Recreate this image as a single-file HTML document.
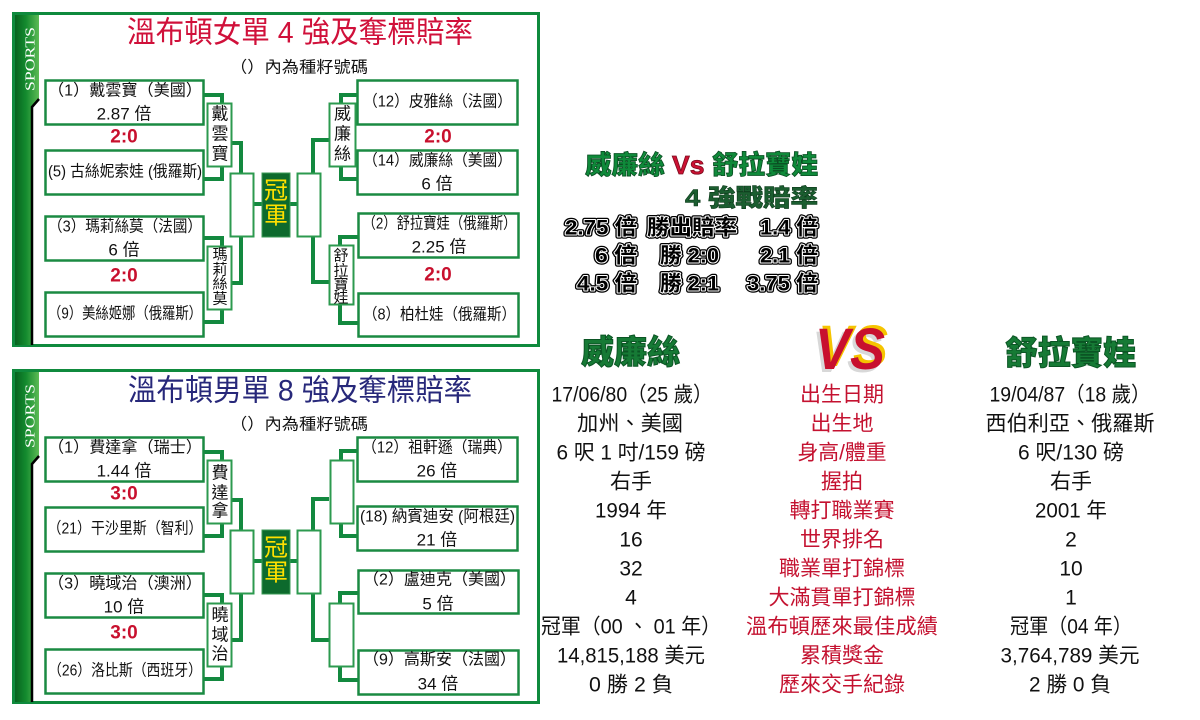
<!DOCTYPE html>
<html><head><meta charset="utf-8">
<style>
html,body{margin:0;padding:0;background:#fff;}
body{width:1200px;height:720px;overflow:hidden;}
svg{display:block;}
text{font-family:"Liberation Sans","Noto Sans CJK TC",sans-serif;}
.bx{fill:#fff;stroke:#1a8a42;stroke-width:2.5;}
.nb{fill:#fff;stroke:#2c9a4f;stroke-width:2;}
.ln{fill:none;stroke:#13893f;stroke-width:4;}
.t{font-size:16px;fill:#111;}
.t2{font-size:17px;fill:#111;}
.sc{font-size:19px;font-weight:bold;fill:#c8102e;}
.nm{font-size:17px;fill:#111;}
.nm2{font-size:15px;fill:#111;}
.ch{font-size:24px;fill:#ffe000;}
.od{font-size:21px;font-weight:bold;}
.l1 text{stroke:#000;stroke-width:4.5;stroke-linejoin:round;fill:#000;}
.l2 text{stroke:#fff;stroke-width:2;stroke-linejoin:round;fill:#fff;}
.l3 text{fill:#000;}
.tb{font-size:21px;fill:#111;}
.tr{font-size:21px;fill:#c41230;}
</style></head><body>
<svg width="1200" height="720" viewBox="0 0 1200 720" xmlns="http://www.w3.org/2000/svg">
<defs>
<linearGradient id="g" x1="0" x2="1" y1="0" y2="0">
<stop offset="0" stop-color="#07631f"/><stop offset="0.45" stop-color="#138a2e"/><stop offset="1" stop-color="#5dbb55"/>
</linearGradient>
</defs>

<!-- ================= WOMEN PANEL ================= -->
<g>
<rect x="13.5" y="13.5" width="525" height="332" fill="none" stroke="#0f8a3d" stroke-width="3"/>
<polygon points="15,15 39,15 39,99 32.5,107 32.5,345 15,345" fill="url(#g)"/>
<polyline points="39,99 32,107 32,345" fill="none" stroke="#000" stroke-width="2.5"/>
<text transform="translate(31,59) rotate(-90)" text-anchor="middle" dominant-baseline="central" style="font-family:'Liberation Serif',serif;font-size:14px;fill:#fff" textLength="64" lengthAdjust="spacingAndGlyphs">SPORTS</text>

<text x="300" y="33" text-anchor="middle" dominant-baseline="central" style="font-size:30px;fill:#d0103a" textLength="346" lengthAdjust="spacingAndGlyphs">溫布頓女單 4 強及奪標賠率</text>
<text x="299" y="68" text-anchor="middle" dominant-baseline="central" style="font-size:16px;fill:#111" textLength="138" lengthAdjust="spacingAndGlyphs">（）內為種籽號碼</text>

<path class="ln" d="M204,95 H222 V179 H204"/>
<path class="ln" d="M204,238 H222 V322 H204"/>
<path class="ln" d="M232,143 H241 V283 H232"/>
<path class="ln" d="M254,204 H297"/>
<path class="ln" d="M329,140 H313 V282 H329"/>
<path class="ln" d="M357,95 H341 V179 H357"/>
<path class="ln" d="M358,237 H340 V323 H358"/>

<rect class="bx" x="45.5" y="80.5" width="158" height="44"/>
<rect class="bx" x="45.5" y="150.5" width="158" height="44"/>
<rect class="bx" x="45.5" y="216.5" width="158" height="44"/>
<rect class="bx" x="45.5" y="292.5" width="158" height="44"/>
<rect class="bx" x="357.5" y="80.5" width="160" height="44"/>
<rect class="bx" x="357.5" y="150.5" width="160" height="44"/>
<rect class="bx" x="358.5" y="213.5" width="160" height="44"/>
<rect class="bx" x="358.5" y="293.5" width="160" height="43"/>

<rect class="nb" x="207.5" y="103.5" width="24" height="63"/>
<rect class="nb" x="207.5" y="246.5" width="24" height="63"/>
<rect class="nb" x="329.5" y="103.5" width="26" height="63"/>
<rect class="nb" x="329.5" y="245.5" width="24" height="59"/>
<rect class="nb" x="230.5" y="173.5" width="23" height="63"/>
<rect class="nb" x="297.5" y="173.5" width="23" height="63"/>
<rect x="262" y="173" width="28" height="64" fill="#0d6a2d" stroke="#3a9a55" stroke-width="1"/>

<g text-anchor="middle" dominant-baseline="central">
<text class="t" x="125" y="91" textLength="154" lengthAdjust="spacingAndGlyphs">（1）戴雲寶（美國）</text>
<text class="t2" x="124" y="114">2.87 倍</text>
<text class="t" x="125" y="172" textLength="154" lengthAdjust="spacingAndGlyphs">(5) 古絲妮索娃 (俄羅斯)</text>
<text class="t" x="125" y="227" textLength="154" lengthAdjust="spacingAndGlyphs">（3）瑪莉絲莫（法國）</text>
<text class="t2" x="124" y="250">6 倍</text>
<text class="t" x="125" y="314" textLength="154" lengthAdjust="spacingAndGlyphs">（9）美絲姬娜（俄羅斯）</text>
<text class="sc" x="124" y="137">2:0</text>
<text class="sc" x="124" y="276">2:0</text>

<text class="t" x="437.5" y="102" textLength="149" lengthAdjust="spacingAndGlyphs">（12）皮雅絲（法國）</text>
<text class="t" x="437.5" y="161" textLength="149" lengthAdjust="spacingAndGlyphs">（14）威廉絲（美國）</text>
<text class="t2" x="437" y="184">6 倍</text>
<text class="t" x="439.5" y="224" textLength="154" lengthAdjust="spacingAndGlyphs">（2）舒拉寶娃（俄羅斯）</text>
<text class="t2" x="439" y="247">2.25 倍</text>
<text class="t" x="439.5" y="315" textLength="153" lengthAdjust="spacingAndGlyphs">（8）柏杜娃（俄羅斯）</text>
<text class="sc" x="438" y="137">2:0</text>
<text class="sc" x="438" y="275">2:0</text>

<text class="nm" x="220" y="114">戴</text><text class="nm" x="220" y="134">雲</text><text class="nm" x="220" y="154">寶</text>
<text class="nm2" x="220" y="255">瑪</text><text class="nm2" x="220" y="270">莉</text><text class="nm2" x="220" y="284">絲</text><text class="nm2" x="220" y="299">莫</text>
<text class="nm" x="342.5" y="114">威</text><text class="nm" x="342.5" y="134">廉</text><text class="nm" x="342.5" y="154">絲</text>
<text class="nm2" x="341" y="256">舒</text><text class="nm2" x="341" y="271">拉</text><text class="nm2" x="341" y="285">寶</text><text class="nm2" x="341" y="298">娃</text>
<text class="ch" x="276" y="191">冠</text><text class="ch" x="276" y="216">軍</text>
</g>
</g>

<!-- ================= MEN PANEL ================= -->
<g transform="translate(0,357)">
<rect x="13.5" y="13.5" width="525" height="332" fill="none" stroke="#0f8a3d" stroke-width="3"/>
<polygon points="15,15 39,15 39,99 32.5,107 32.5,345 15,345" fill="url(#g)"/>
<polyline points="39,99 32,107 32,345" fill="none" stroke="#000" stroke-width="2.5"/>
<text transform="translate(31,59) rotate(-90)" text-anchor="middle" dominant-baseline="central" style="font-family:'Liberation Serif',serif;font-size:14px;fill:#fff" textLength="64" lengthAdjust="spacingAndGlyphs">SPORTS</text>

<text x="300" y="34" text-anchor="middle" dominant-baseline="central" style="font-size:30px;fill:#27287a" textLength="344" lengthAdjust="spacingAndGlyphs">溫布頓男單 8 強及奪標賠率</text>
<text x="299" y="68" text-anchor="middle" dominant-baseline="central" style="font-size:16px;fill:#111" textLength="138" lengthAdjust="spacingAndGlyphs">（）內為種籽號碼</text>

<path class="ln" d="M204,95 H222 V179 H204"/>
<path class="ln" d="M204,238 H222 V322 H204"/>
<path class="ln" d="M232,143 H241 V283 H232"/>
<path class="ln" d="M254,204 H297"/>
<path class="ln" d="M329,142 H313 V283 H329"/>
<path class="ln" d="M357,94 H341 V179 H357"/>
<path class="ln" d="M358,236 H340 V323 H358"/>

<rect class="bx" x="45.5" y="80.5" width="158" height="44"/>
<rect class="bx" x="45.5" y="150.5" width="158" height="44"/>
<rect class="bx" x="45.5" y="216.5" width="158" height="44"/>
<rect class="bx" x="45.5" y="292.5" width="158" height="44"/>
<rect class="bx" x="357.5" y="80.5" width="160" height="44"/>
<rect class="bx" x="357.5" y="149.5" width="160" height="44"/>
<rect class="bx" x="358.5" y="213.5" width="160" height="43"/>
<rect class="bx" x="358.5" y="293.5" width="160" height="44"/>

<rect class="nb" x="207.5" y="103.5" width="24" height="63"/>
<rect class="nb" x="207.5" y="246.5" width="24" height="63"/>
<rect class="nb" x="330.5" y="103.5" width="23" height="63"/>
<rect class="nb" x="329.5" y="246.5" width="24" height="63"/>
<rect class="nb" x="230.5" y="173.5" width="23" height="63"/>
<rect class="nb" x="297.5" y="173.5" width="23" height="63"/>
<rect x="262" y="173" width="28" height="64" fill="#0d6a2d" stroke="#3a9a55" stroke-width="1"/>

<g text-anchor="middle" dominant-baseline="central">
<text class="t" x="125" y="91" textLength="154" lengthAdjust="spacingAndGlyphs">（1）費達拿（瑞士）</text>
<text class="t2" x="124" y="114">1.44 倍</text>
<text class="t" x="125" y="172" textLength="155" lengthAdjust="spacingAndGlyphs">（21）干沙里斯（智利）</text>
<text class="t" x="125" y="227" textLength="154" lengthAdjust="spacingAndGlyphs">（3）曉域治（澳洲）</text>
<text class="t2" x="124" y="250">10 倍</text>
<text class="t" x="125" y="314" textLength="154" lengthAdjust="spacingAndGlyphs">（26）洛比斯（西班牙）</text>
<text class="sc" x="124" y="137">3:0</text>
<text class="sc" x="124" y="276">3:0</text>

<text class="t" x="437" y="91" textLength="150" lengthAdjust="spacingAndGlyphs">（12）祖軒遜（瑞典）</text>
<text class="t2" x="437" y="114">26 倍</text>
<text class="t" x="437.5" y="160" textLength="155" lengthAdjust="spacingAndGlyphs">(18) 納賓迪安 (阿根廷)</text>
<text class="t2" x="437" y="183">21 倍</text>
<text class="t" x="439.5" y="223" textLength="153" lengthAdjust="spacingAndGlyphs">（2）盧迪克（美國）</text>
<text class="t2" x="438" y="247">5 倍</text>
<text class="t" x="439.5" y="303" textLength="153" lengthAdjust="spacingAndGlyphs">（9）高斯安（法國）</text>
<text class="t2" x="438" y="327">34 倍</text>

<text class="nm" x="220" y="116">費</text><text class="nm" x="220" y="136">達</text><text class="nm" x="220" y="154">拿</text>
<text class="nm" x="220" y="258">曉</text><text class="nm" x="220" y="278">域</text><text class="nm" x="220" y="297">治</text>
<text class="ch" x="276" y="191">冠</text><text class="ch" x="276" y="216">軍</text>
</g>
</g>

<!-- ================= ODDS BLOCK ================= -->
<text x="585" y="165" dominant-baseline="central" style="font-size:26px;font-weight:900" stroke="#0a4d22" stroke-width="0.8" textLength="233" lengthAdjust="spacingAndGlyphs"><tspan fill="#0f8a3a">威廉絲</tspan><tspan fill="#cc1133" stroke="#7a0a1c"> Vs </tspan><tspan fill="#0f8a3a">舒拉寶娃</tspan></text>
<text x="818" y="198.5" text-anchor="end" dominant-baseline="central" style="font-size:24px;font-weight:900;fill:#1b5e30" stroke="#0d3a1b" stroke-width="0.6" textLength="133" lengthAdjust="spacingAndGlyphs">4 強戰賠率</text>

<g class="l1" dominant-baseline="central">
<text class="od" x="565" y="228" textLength="72" lengthAdjust="spacingAndGlyphs">2.75 倍</text>
<text class="od" x="647" y="228" textLength="90" lengthAdjust="spacingAndGlyphs">勝出賠率</text>
<text class="od" x="760" y="228" textLength="58" lengthAdjust="spacingAndGlyphs">1.4 倍</text>
<text class="od" x="595" y="256" textLength="42" lengthAdjust="spacingAndGlyphs">6 倍</text>
<text class="od" x="660" y="256" textLength="59" lengthAdjust="spacingAndGlyphs">勝 2:0</text>
<text class="od" x="760" y="256" textLength="58" lengthAdjust="spacingAndGlyphs">2.1 倍</text>
<text class="od" x="577" y="284" textLength="60" lengthAdjust="spacingAndGlyphs">4.5 倍</text>
<text class="od" x="660" y="284" textLength="59" lengthAdjust="spacingAndGlyphs">勝 2:1</text>
<text class="od" x="747" y="284" textLength="71" lengthAdjust="spacingAndGlyphs">3.75 倍</text>
</g>
<g class="l2" dominant-baseline="central">
<text class="od" x="565" y="228" textLength="72" lengthAdjust="spacingAndGlyphs">2.75 倍</text>
<text class="od" x="647" y="228" textLength="90" lengthAdjust="spacingAndGlyphs">勝出賠率</text>
<text class="od" x="760" y="228" textLength="58" lengthAdjust="spacingAndGlyphs">1.4 倍</text>
<text class="od" x="595" y="256" textLength="42" lengthAdjust="spacingAndGlyphs">6 倍</text>
<text class="od" x="660" y="256" textLength="59" lengthAdjust="spacingAndGlyphs">勝 2:0</text>
<text class="od" x="760" y="256" textLength="58" lengthAdjust="spacingAndGlyphs">2.1 倍</text>
<text class="od" x="577" y="284" textLength="60" lengthAdjust="spacingAndGlyphs">4.5 倍</text>
<text class="od" x="660" y="284" textLength="59" lengthAdjust="spacingAndGlyphs">勝 2:1</text>
<text class="od" x="747" y="284" textLength="71" lengthAdjust="spacingAndGlyphs">3.75 倍</text>
</g>
<g class="l3" dominant-baseline="central">
<text class="od" x="565" y="228" textLength="72" lengthAdjust="spacingAndGlyphs">2.75 倍</text>
<text class="od" x="647" y="228" textLength="90" lengthAdjust="spacingAndGlyphs">勝出賠率</text>
<text class="od" x="760" y="228" textLength="58" lengthAdjust="spacingAndGlyphs">1.4 倍</text>
<text class="od" x="595" y="256" textLength="42" lengthAdjust="spacingAndGlyphs">6 倍</text>
<text class="od" x="660" y="256" textLength="59" lengthAdjust="spacingAndGlyphs">勝 2:0</text>
<text class="od" x="760" y="256" textLength="58" lengthAdjust="spacingAndGlyphs">2.1 倍</text>
<text class="od" x="577" y="284" textLength="60" lengthAdjust="spacingAndGlyphs">4.5 倍</text>
<text class="od" x="660" y="284" textLength="59" lengthAdjust="spacingAndGlyphs">勝 2:1</text>
<text class="od" x="747" y="284" textLength="71" lengthAdjust="spacingAndGlyphs">3.75 倍</text>
</g>

<!-- ================= COMPARISON ================= -->
<text x="630.5" y="352" text-anchor="middle" dominant-baseline="central" style="font-size:33px;font-weight:900;fill:#167a35" stroke="#0b5524" stroke-width="1" textLength="99" lengthAdjust="spacingAndGlyphs">威廉絲</text>
<text x="1070.5" y="353" text-anchor="middle" dominant-baseline="central" style="font-size:33px;font-weight:900;fill:#167a35" stroke="#0b5524" stroke-width="1" textLength="131" lengthAdjust="spacingAndGlyphs">舒拉寶娃</text>

<g style="font-family:'Liberation Sans',sans-serif" font-style="italic" font-weight="bold">
<text x="812" y="372" style="font-family:'Liberation Sans',sans-serif;font-size:58px;font-style:italic;font-weight:bold;fill:#d8d8d8" textLength="70" lengthAdjust="spacingAndGlyphs">VS</text>
<text x="818" y="366" style="font-family:'Liberation Sans',sans-serif;font-size:58px;font-style:italic;font-weight:bold;fill:#f5c400" textLength="70" lengthAdjust="spacingAndGlyphs">VS</text>
<text x="815" y="369" style="font-family:'Liberation Sans',sans-serif;font-size:58px;font-style:italic;font-weight:bold;fill:#c8102e" textLength="70" lengthAdjust="spacingAndGlyphs">VS</text>
</g>

<g text-anchor="middle" dominant-baseline="central">
<text class="tb" x="632" y="395" textLength="161" lengthAdjust="spacingAndGlyphs">17/06/80（25 歲）</text>
<text class="tb" x="630" y="424" textLength="106" lengthAdjust="spacingAndGlyphs">加州、美國</text>
<text class="tb" x="631" y="453" textLength="149" lengthAdjust="spacingAndGlyphs">6 呎 1 吋/159 磅</text>
<text class="tb" x="631" y="482">右手</text>
<text class="tb" x="631" y="511" textLength="72" lengthAdjust="spacingAndGlyphs">1994 年</text>
<text class="tb" x="631" y="540">16</text>
<text class="tb" x="631" y="569">32</text>
<text class="tb" x="631" y="598">4</text>
<text class="tb" x="631" y="627" textLength="180" lengthAdjust="spacingAndGlyphs">冠軍（00 、 01 年）</text>
<text class="tb" x="631" y="656" textLength="148" lengthAdjust="spacingAndGlyphs">14,815,188 美元</text>
<text class="tb" x="631" y="685" textLength="84" lengthAdjust="spacingAndGlyphs">0 勝 2 負</text>

<text class="tr" x="842" y="395">出生日期</text>
<text class="tr" x="842" y="424">出生地</text>
<text class="tr" x="842" y="453" textLength="89" lengthAdjust="spacingAndGlyphs">身高/體重</text>
<text class="tr" x="842" y="482">握拍</text>
<text class="tr" x="842" y="511">轉打職業賽</text>
<text class="tr" x="842" y="540">世界排名</text>
<text class="tr" x="842" y="569">職業單打錦標</text>
<text class="tr" x="842" y="598">大滿貫單打錦標</text>
<text class="tr" x="842" y="627" textLength="192" lengthAdjust="spacingAndGlyphs">溫布頓歷來最佳成績</text>
<text class="tr" x="842" y="656">累積獎金</text>
<text class="tr" x="842" y="685">歷來交手紀錄</text>

<text class="tb" x="1070" y="395" textLength="161" lengthAdjust="spacingAndGlyphs">19/04/87（18 歲）</text>
<text class="tb" x="1070" y="424" textLength="169" lengthAdjust="spacingAndGlyphs">西伯利亞、俄羅斯</text>
<text class="tb" x="1071" y="453" textLength="106" lengthAdjust="spacingAndGlyphs">6 呎/130 磅</text>
<text class="tb" x="1071" y="482">右手</text>
<text class="tb" x="1071" y="511" textLength="72" lengthAdjust="spacingAndGlyphs">2001 年</text>
<text class="tb" x="1071" y="540">2</text>
<text class="tb" x="1071" y="569">10</text>
<text class="tb" x="1071" y="598">1</text>
<text class="tb" x="1071" y="627" textLength="122" lengthAdjust="spacingAndGlyphs">冠軍（04 年）</text>
<text class="tb" x="1070" y="656" textLength="139" lengthAdjust="spacingAndGlyphs">3,764,789 美元</text>
<text class="tb" x="1070" y="685" textLength="82" lengthAdjust="spacingAndGlyphs">2 勝 0 負</text>
</g>
</svg>
</body></html>
